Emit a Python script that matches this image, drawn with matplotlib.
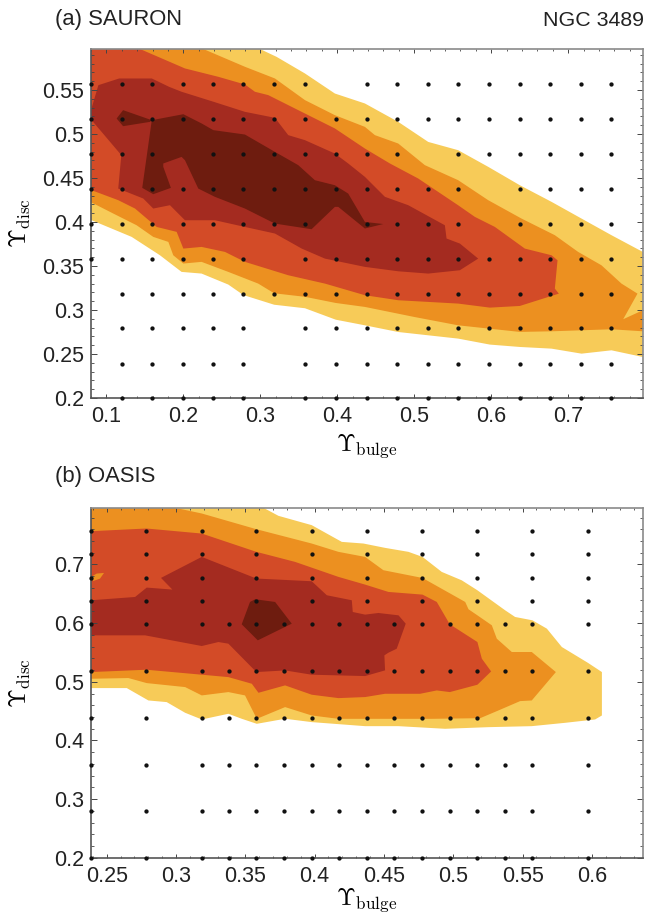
import matplotlib
matplotlib.use("Agg")
import matplotlib.pyplot as plt
from matplotlib.ticker import MultipleLocator

plt.rcParams['font.family'] = ['Liberation Sans', 'DejaVu Sans']
plt.rcParams['mathtext.fontset'] = 'cm'

YELLOW, ORANGE, RED, DARK, DARKEST = '#F7CB58', '#EC9020', '#D34B27', '#A42B20', '#6E1C0F'

# Panel (a) SAURON: contour outlines (upsilon_bulge, upsilon_disc)
a1_x = [.080,.2995,.3211,.358,.3969,.4359,.4792,.5182,.5571,.5961,.6372,.6784,.7174,.7563,.797,.797,.7563,.7174,.6784,.6372,.5983,.5571,.4792,.4359,.398,.358,.318,.278,.2584,.2237,.1977,.1696,.1328,.0809,.080]
a1_y = [.5966,.5966,.5877,.5688,.546,.5347,.5138,.491,.4816,.4627,.4418,.4229,.4039,.385,.366,.2466,.2542,.2504,.2561,.258,.2607,.2675,.275,.2826,.289,.302,.306,.317,.3289,.3414,.3433,.3622,.3831,.402,.402]
a2_x = [.080,.2259,.28,.319,.358,.3969,.4359,.4489,.4792,.5138,.5571,.5961,.6394,.6827,.713,.7433,.7693,.7901,.7715,.797,.797,.7563,.6784,.6372,.5571,.5,.4359,.398,.358,.318,.2973,.2584,.2237,.2,.1869,.1805,.1609,.1393,.109,.0809,.080]
a2_y = [.5966,.5966,.5764,.5631,.5385,.5214,.5081,.4987,.4892,.4646,.4475,.4248,.4039,.385,.366,.3508,.33,.3186,.2895,.2997,.2758,.2781,.2758,.2751,.2826,.2921,.3035,.308,.315,.319,.33,.3433,.3547,.3528,.3622,.3774,.3831,.3963,.4096,.4221,.4221]
a3_x = [.080,.1436,.2021,.2454,.28,.293,.3103,.358,.3969,.4359,.4684,.5052,.5571,.5788,.6048,.6437,.6784,.6862,.6827,.6879,.6372,.5983,.5571,.4792,.4359,.384,.3363,.28,.2541,.2237,.2,.1913,.1653,.1372,.1154,.0809,.080]
a3_y = [.5966,.5966,.5745,.565,.5563,.548,.5442,.5233,.5063,.4835,.4665,.4494,.419,.4058,.3944,.3698,.3622,.3565,.3243,.3186,.3046,.3027,.3073,.3111,.3168,.33,.3395,.3547,.366,.3717,.3698,.3888,.3944,.4153,.4248,.4361,.4361]
a4_x = [.0896,.1166,.159,.1815,.1977,.2393,.28,.319,.3363,.358,.3969,.4142,.4359,.4619,.4922,.5398,.542,.5593,.5831,.5593,.5182,.4792,.4359,.384,.3538,.319,.28,.241,.2021,.1826,.1609,.1479,.1154,.1194,.0809,.080,.080]
a4_y = [.5555,.5631,.5631,.5536,.548,.5366,.5252,.5184,.4987,.493,.4778,.4665,.4513,.4286,.4191,.3963,.3812,.3755,.3584,.3452,.3414,.344,.3490,.3584,.3698,.3869,.3944,.402,.402,.4191,.4153,.4267,.438,.476,.5157,.5157,.527]
a5_x = [.159,.200,.2237,.2389,.280,.319,.3493,.3709,.3969,.4142,.4359,.4597,.4359,.4013,.3969,.3666,.319,.28,.241,.2194,.2021,.1977,.1739,.1739,.1838,.1609,.1466]
a5_y = [.5157,.5225,.512,.5044,.4994,.4797,.4646,.4475,.4418,.4323,.4001,.3977,.3926,.4172,.4172,.3918,.3982,.4153,.4286,.438,.4702,.474,.4665,.4627,.4388,.4316,.4388]
a6_x = [.1133,.1217,.159,.1567,.1217]
a6_y = [.5176,.5271,.5157,.5138,.5089]

# Panel (b) OASIS
b1_x = [.3631,.3739,.3979,.4196,.4352,.4508,.4677,.4778,.4917,.5061,.5174,.5374,.5446,.5571,.5675,.5783,.597,.6072,.6072,.6023,.5807,.5566,.5254,.4941,.4605,.4364,.3979,.3787,.3583,.3474,.3378,.3186,.3066,.2933,.2801,.2645,.2387,.2387]
b1_y = [.7966,.7829,.767,.7385,.7357,.7283,.7215,.7129,.6873,.673,.656,.6219,.6105,.6048,.5906,.5593,.5325,.5166,.4426,.4358,.4301,.4244,.4227,.4199,.4244,.4244,.4313,.437,.4284,.437,.4455,.4358,.4472,.4654,.4682,.4893,.4893,.7966]
b2_x = [.2387,.2993,.3186,.358,.3979,.4172,.4364,.4496,.4778,.5086,.511,.5174,.5278,.5314,.5422,.5566,.574,.5566,.5482,.5326,.5194,.4845,.4364,.4172,.3979,.3787,.3583,.3498,.3378,.3186,.3066,.2789,.2657,.2387]
b2_y = [.7966,.7966,.7869,.7601,.7357,.7215,.7129,.6902,.677,.6361,.6236,.6133,.5963,.5735,.5508,.5508,.5166,.4682,.4671,.4512,.438,.4369,.4369,.4369,.4426,.4569,.4369,.4768,.4825,.4768,.491,.4978,.5064,.5052]
b3_x = [.2387,.2787,.3186,.358,.3859,.4172,.4364,.4532,.4778,.4881,.4975,.5174,.5206,.5273,.5174,.4975,.4881,.4761,.4508,.4364,.4172,.3979,.3787,.3595,.3547,.3378,.3186,.2787,.2387]
b3_y = [.7567,.7613,.7527,.7215,.7044,.6788,.6657,.6532,.6486,.6361,.598,.5678,.5394,.5177,.495,.4825,.4853,.4796,.4796,.474,.4722,.478,.4939,.4813,.4967,.508,.5121,.5206,.5166]
b4_x = [.2387,.2428,.2481,.2452,.2404]
b4_y = [.6788,.6845,.6856,.6759,.6719]
b5_x = [.2387,.2705,.2789,.2974,.2892,.3186,.358,.3979,.4088,.4268,.4275,.4364,.446,.4605,.4657,.4592,.4532,.4503,.4508,.4364,.3979,.3787,.358,.3378,.3306,.3186,.2777,.2387]
b5_y = [.639,.6446,.6606,.6572,.6771,.7129,.676,.6714,.6475,.639,.619,.6145,.6173,.6133,.5991,.5564,.5496,.5451,.5195,.5098,.5121,.5194,.5166,.565,.5678,.561,.5792,.5792]
b6_x = [.3534,.3571,.3715,.3835,.359,.3474]
b6_y = [.6361,.6407,.6361,.5991,.5707,.598]

# Model grid points
a_cols = [.080,.120,.159,.199,.239,.278,.318,.358,.398,.439,.478,.518,.557,.597,.637,.677,.717,.756]
a_rows = [.200,.239,.279,.318,.358,.398,.438,.477,.517,.557]
a_missing = {.200: [.080,.318], .239: [.080,.318], .279: [.080,.318], .318: [.080],
             .358: [.318], .398: [.398,.597], .438: [.597],
             .477: [.199,.518], .517: [], .557: [.398]}
b_cols_coarse = [.2387,.2787,.3186,.358,.3979,.4376,.4778,.5174,.5571,.597]
b_cols_fine = [.2387,.2787,.3186,.3383,.358,.378,.3979,.4177,.4376,.4576,.4778,.4975,.5174,.5374,.5571,.597]
b_rows_coarse = [.6372,.677,.717,.7567]
b_rows_fine = [.200,.2797,.3588,.4382,.5183,.598]

xticks_a = [.1,.2,.3,.4,.5,.6,.7]
yticks_a = [.2,.25,.3,.35,.4,.45,.5,.55]
xticks_b = [.25,.3,.35,.4,.45,.5,.55,.6]
yticks_b = [.2,.3,.4,.5,.6,.7]


def label(v):
    return f"{v:.2f}".rstrip('0')


def style(ax, xticks, yticks, xminor, yminor, xpad):
    ax.set_xticks(xticks, [label(v) for v in xticks])
    ax.set_yticks(yticks, [label(v) for v in yticks])
    ax.xaxis.set_minor_locator(MultipleLocator(xminor))
    ax.yaxis.set_minor_locator(MultipleLocator(yminor))
    ax.tick_params(axis='x', which='major', direction='in', top=True, length=2.8,
                   width=0.7, color='#444444', labelsize=15.5, pad=6, labelcolor='#222222')
    ax.tick_params(axis='y', which='major', direction='in', right=True, length=4.6,
                   width=0.7, color='#444444', labelsize=15.5, pad=5, labelcolor='#222222')
    ax.tick_params(axis='x', which='minor', direction='in', top=True, length=1.6,
                   width=0.6, color='#444444')
    ax.tick_params(axis='y', which='minor', direction='in', right=True, length=2.4,
                   width=0.6, color='#444444')
    for side, col, lw in [('top', '#8a8a8a', 1.2), ('right', '#8a8a8a', 1.2),
                          ('left', '#555555', 1.2), ('bottom', '#555555', 1.2)]:
        ax.spines[side].set_color(col)
        ax.spines[side].set_linewidth(lw)
    ax.set_xlabel(r'$\Upsilon_{\mathrm{bulge}}$', fontsize=17.5, labelpad=xpad)
    ax.set_ylabel(r'$\Upsilon_{\mathrm{disc}}$', fontsize=17.5)
    ax.yaxis.set_label_coords(-0.105, 0.5)


W, H = 647, 915
fig = plt.figure(figsize=(W/100, H/100), dpi=100)
L, R = 91, 642.8
ax_a = fig.add_axes([L/W, 1-398/H, (R-L)/W, (398-49)/H])
ax_b = fig.add_axes([L/W, 1-857.8/H, (R-L)/W, (857.8-507.8)/H])

for xs, ys, c in [(a1_x, a1_y, YELLOW), (a2_x, a2_y, ORANGE), (a3_x, a3_y, RED),
                  (a4_x, a4_y, DARK), (a5_x, a5_y, DARKEST), (a6_x, a6_y, DARKEST)]:
    ax_a.fill(xs, ys, color=c, lw=0)
for xs, ys, c in [(b1_x, b1_y, YELLOW), (b2_x, b2_y, ORANGE), (b3_x, b3_y, RED),
                  (b4_x, b4_y, ORANGE), (b5_x, b5_y, DARK), (b6_x, b6_y, DARKEST)]:
    ax_b.fill(xs, ys, color=c, lw=0)

DOT = dict(linestyle='none', marker='o', color='#111111', ms=3.1, mew=0, clip_on=False, zorder=5)
for r in a_rows:
    xs = [c for c in a_cols if c not in a_missing[r]]
    ax_a.plot(xs, [r]*len(xs), **DOT)
for r in b_rows_coarse:
    ax_b.plot(b_cols_coarse, [r]*len(b_cols_coarse), **DOT)
for r in b_rows_fine:
    ax_b.plot(b_cols_fine, [r]*len(b_cols_fine), **DOT)

ax_a.set_xlim(.08, .797)
ax_a.set_ylim(.2, .5966)
ax_b.set_xlim(.2387, .6367)
ax_b.set_ylim(.2, .7966)
style(ax_a, xticks_a, yticks_a, .02, .01, 3.5)
style(ax_b, xticks_b, yticks_b, .01, .02, -0.5)

fig.text(55/W, 1-20/H, '(a) SAURON', fontsize=15.8, va='center', ha='left', color='#222222')
fig.text(644/W, 1-20/H, 'NGC 3489', fontsize=15.4, va='center', ha='right', color='#222222')
fig.text(55/W, 1-477/H, '(b) OASIS', fontsize=15.8, va='center', ha='left', color='#222222')

fig.savefig('out.png', dpi=100)
